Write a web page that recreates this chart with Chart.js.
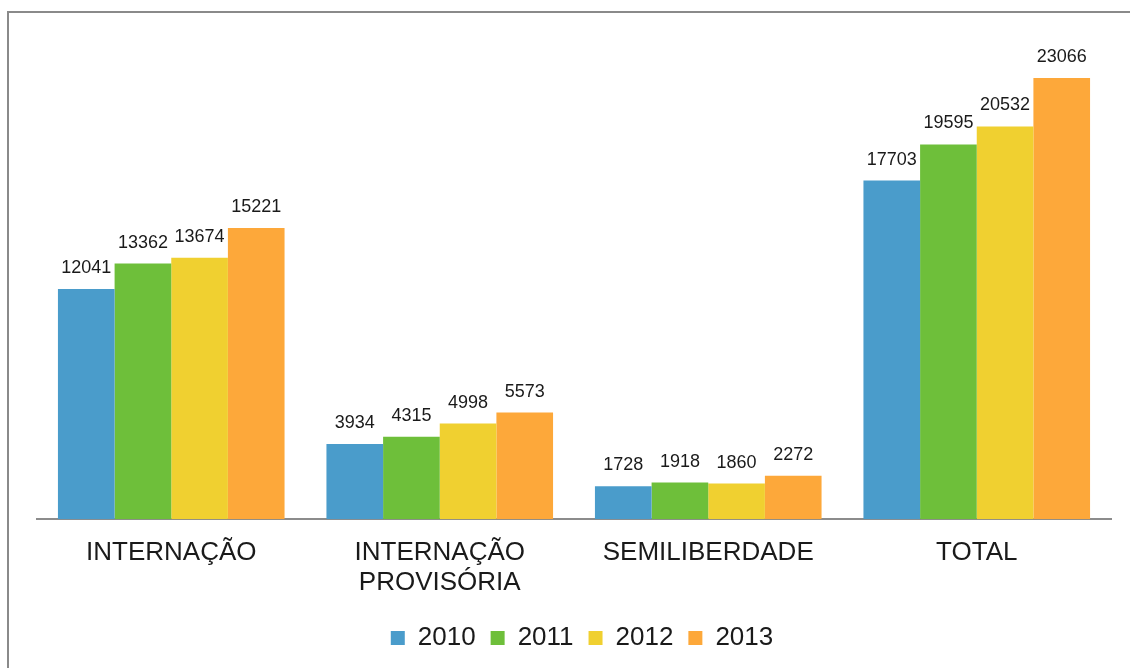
<!DOCTYPE html>
<html>
<head>
<meta charset="utf-8">
<script src="https://cdn.jsdelivr.net/npm/chart.js@4.4.1/dist/chart.umd.min.js"></script>
<style>
  html, body { margin: 0; padding: 0; background: #fff; overflow: hidden; }
  #wrap { position: relative; width: 1130px; height: 668px; }
  #frame { position: absolute; left: 7px; top: 11px; width: 1200px; height: 700px;
           border: 2px solid #8a8a8a; pointer-events: none; }
  canvas { position: absolute; left: 0; top: 0; }
</style>
</head>
<body>
<div id="wrap">
  <canvas id="chart" width="1130" height="668"></canvas>
  <div id="frame"></div>
</div>
<script>
// data
const categories = ['INTERNAÇÃO', ['INTERNAÇÃO', 'PROVISÓRIA'], 'SEMILIBERDADE', 'TOTAL'];
const years = ['2010', '2011', '2012', '2013'];
const values2010 = [12041, 3934, 1728, 17703];
const values2011 = [13362, 4315, 1918, 19595];
const values2012 = [13674, 4998, 1860, 20532];
const values2013 = [15221, 5573, 2272, 23066];
const yMax = 25000;

const colors = ['#4a9ccb', '#6ebf3a', '#f0d030', '#fda83a'];
const FONT = "'Liberation Sans', Arial, sans-serif";

// value labels above each bar
const valueLabels = {
    id: 'valueLabels',
    afterDatasetsDraw(chart) {
        const ctx = chart.ctx;
        ctx.save();
        ctx.font = '18px ' + FONT;
        ctx.fillStyle = '#1a1a1a';
        ctx.textAlign = 'center';
        ctx.textBaseline = 'alphabetic';
        chart.data.datasets.forEach((ds, i) => {
            chart.getDatasetMeta(i).data.forEach((bar, j) => {
                ctx.fillText(String(ds.data[j]), bar.x, bar.y - 16);
            });
        });
        ctx.restore();
    }
};

const allSeries = [values2010, values2011, values2012, values2013];

new Chart(document.getElementById('chart').getContext('2d'), {
    type: 'bar',
    data: {
        labels: categories,
        datasets: allSeries.map((vals, i) => ({
            label: years[i],
            data: vals,
            backgroundColor: colors[i],
            borderWidth: 0,
            categoryPercentage: 0.844,
            barPercentage: 1.0
        }))
    },
    options: {
        responsive: false,
        animation: false,
        // legend is centred on the padded width, so the right gap is taken by the hidden y axis
        layout: { padding: { left: 37, right: 3, top: 41, bottom: 7 } },
        plugins: {
            legend: {
                position: 'bottom',
                labels: {
                    boxWidth: 14,
                    boxHeight: 14,
                    padding: 15,
                    color: '#1a1a1a',
                    font: { size: 26, family: FONT }
                }
            },
            tooltip: { enabled: false }
        },
        scales: {
            x: {
                grid: { display: false, drawTicks: false },
                border: { display: true, color: '#8c8c8c', width: 2 },
                ticks: {
                    color: '#1a1a1a',
                    padding: 19,
                    maxRotation: 0,
                    autoSkip: false,
                    font: { size: 26, family: FONT, lineHeight: 1.15 }
                },
                afterFit: (s) => { s.height -= 7; }
            },
            y: {
                position: 'right',
                min: 0,
                max: yMax,
                grid: { display: false },
                border: { display: false },
                ticks: { display: false },
                afterFit: (s) => { s.width = 16; }
            }
        }
    },
    plugins: [valueLabels]
});
</script>
</body>
</html>
